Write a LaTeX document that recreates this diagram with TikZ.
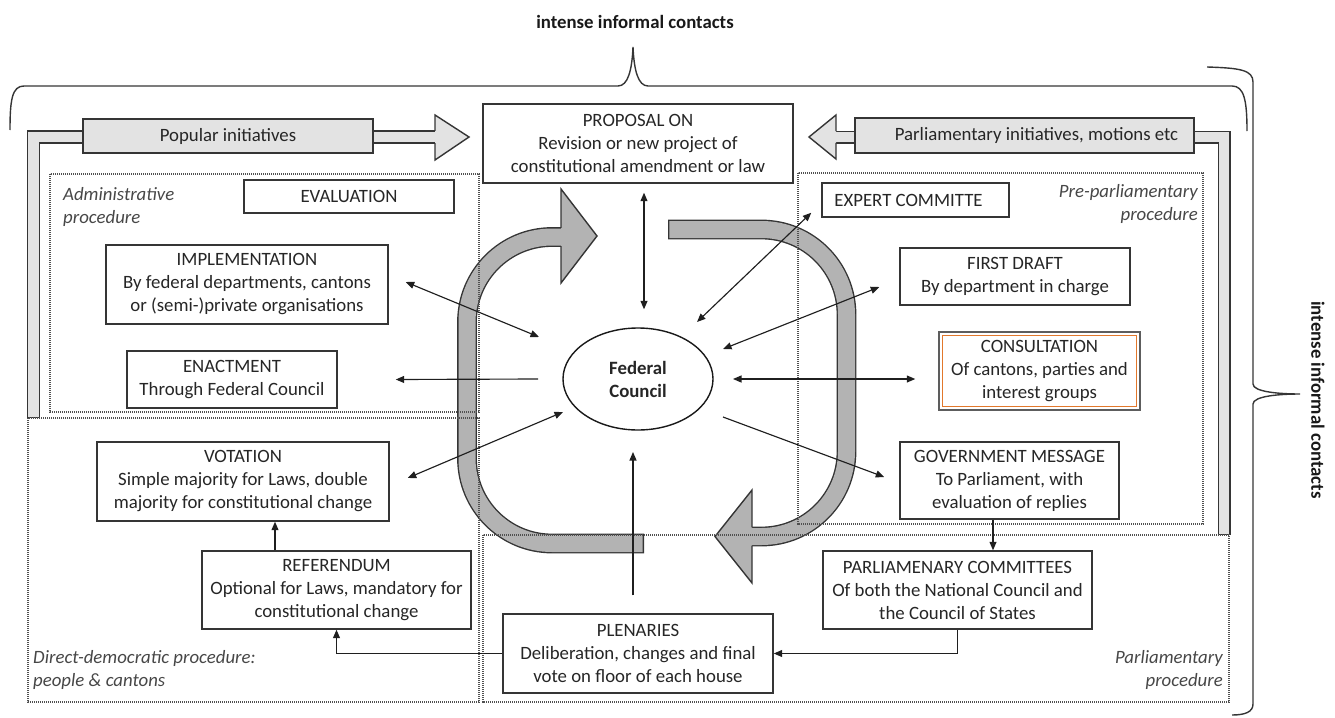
\documentclass[tikz,border=0pt]{standalone}
\usepackage{fontspec}
\setmainfont{Carlito}
\usetikzlibrary{arrows.meta,shapes.geometric,calc}
\definecolor{boxc}{HTML}{353535}
\definecolor{txt}{HTML}{262626}
\definecolor{bandfill}{HTML}{B3B3B3}
\definecolor{initfill}{HTML}{E3E3E3}
\definecolor{dotc}{HTML}{505050}
\definecolor{orangec}{HTML}{E2782C}
\newcommand{\bxfont}{\fontsize{18.8}{23}\selectfont}
\begin{document}
\begin{tikzpicture}[x=1pt,y=-1pt,
  >={Triangle[length=8.5pt,width=7pt]},
  box/.style={draw=boxc,line width=1.45pt,fill=white,align=center,inner sep=0pt,text=txt,font=\bxfont},
  lbl/.style={font=\bxfont\itshape,text=txt!85,inner sep=0pt},
  dotbox/.style={draw=dotc,line width=1.1pt,dash pattern=on 1.1pt off 0.9pt},
  con/.style={draw=black!88,line width=1.15pt},
  bandout/.style={draw=boxc,line width=19.8pt,rounded corners=85pt},
  bandin/.style={draw=bandfill,line width=17pt,rounded corners=85pt},
  headline/.style={draw=boxc,line width=1.4pt,line join=miter},
  brace/.style={draw=boxc,line width=1.4pt}
]
\useasboundingbox (0,0) rectangle (1335,717);

% ---------- gray cycle ----------
\draw[bandout] (644,543.5) -- (467,543.5) -- (467,237) -- (561,237);
\draw[bandin] (642.6,543.5) -- (467,543.5) -- (467,237) -- (561,237);
\fill[bandfill] (561,228.5) -- (561,189) -- (597,236) -- (561,283) -- (561,245.5) -- cycle;
\draw[headline] (561,227.8) -- (561,189) -- (597,236) -- (561,283) -- (561,246.2);

\draw[bandout] (668,229.5) -- (846.5,229.5) -- (846.5,536.5) -- (752,536.5);
\draw[bandin] (669.4,229.5) -- (846.5,229.5) -- (846.5,536.5) -- (752,536.5);
\fill[bandfill] (752,528) -- (752,490) -- (715,536.5) -- (752,583) -- (752,545) -- cycle;
\draw[headline] (752,527.3) -- (752,490) -- (715,536.5) -- (752,583) -- (752,545.7);

% ---------- initiatives ----------
\draw[draw=boxc,line width=13.6pt] (435,137) -- (33.5,137) -- (33.5,418);
\draw[draw=initfill,line width=10.8pt] (435,137) -- (33.5,137) -- (33.5,416.6);
\fill[initfill] (435,131.5) -- (435,115) -- (469,137) -- (435,160) -- (435,142.5) -- cycle;
\draw[headline] (435,130.9) -- (435,115) -- (469,137) -- (435,160) -- (435,143.1);
\node[box,fill=initfill,minimum width=290pt,minimum height=34pt] (pop) at (228,136) {Popular initiatives};

\draw[draw=boxc,line width=13pt] (836,137) -- (1224,137) -- (1224,535);
\draw[draw=initfill,line width=10.2pt] (836,137) -- (1224,137) -- (1224,533.6);
\fill[initfill] (836,132) -- (836,115) -- (809,137) -- (836,159) -- (836,142) -- cycle;
\draw[headline] (836,131.2) -- (836,115) -- (809,137) -- (836,159) -- (836,142.8);
\node[box,fill=initfill,minimum width=339pt,minimum height=35pt] (parlinit) at (1024.5,135.5) {\hspace*{24pt}Parliamentary initiatives, motions etc};

% ---------- procedure regions ----------
\draw[dotbox] (50,174) rectangle (479,412);
\draw[dotbox] (28,418) rectangle (479,702);
\draw[dotbox] (798,173) rectangle (1203,524);
\draw[dotbox] (483,535) rectangle (1229,702);

\node[lbl,align=left,anchor=west] (admlbl) at (63,206.5) {Administrative\\procedure};
\node[lbl,align=right,anchor=east] (prelbl) at (1198,204) {Pre-parliamentary\\procedure};
\node[lbl,align=left,anchor=west] (dirlbl) at (33,669.5) {Direct-democratic procedure:\\people \& cantons};
\node[lbl,align=right,anchor=east] (parlbl) at (1223,669.5) {Parliamentary\\procedure};

% ---------- boxes ----------
\node[box,minimum width=310pt,minimum height=79pt] (prop) at (638,143.5) {PROPOSAL ON\\Revision or new project of\\constitutional amendment or law};
\node[box,minimum width=210pt,minimum height=33pt] (eval) at (349,196.5) {EVALUATION};
\node[box,minimum width=282pt,minimum height=79pt] (impl) at (247,284.5) {IMPLEMENTATION\\By federal departments, cantons\\or (semi-)private organisations};
\node[box,minimum width=210pt,minimum height=57pt] (enact) at (232,379.5) {ENACTMENT\\Through Federal Council};
\node[box,minimum width=187pt,minimum height=34pt] (expert) at (915.5,200) {EXPERT COMMITTE\hspace*{14pt}};
\node[box,minimum width=230pt,minimum height=57pt] (draft) at (1015,276.5) {FIRST DRAFT\\By department in charge};
\node[box,draw=boxc!80,minimum width=201pt,minimum height=78pt] (cons) at (1039.5,371) {CONSULTATION\\Of cantons, parties and\\interest groups};
\draw[draw=orangec,line width=1.5pt] ($(cons.south west)+(4,-4)$) rectangle ($(cons.north east)+(-4,4)$);
\node[box,minimum width=219pt,minimum height=77pt] (gov) at (1009.5,480.5) {GOVERNMENT MESSAGE\\To Parliament, with\\evaluation of replies};
\node[box,minimum width=269pt,minimum height=78pt] (parlc) at (957.5,590) {PARLIAMENARY COMMITTEES\\Of both the National Council and\\the Council of States};
\node[box,minimum width=270pt,minimum height=79pt] (plen) at (638,653.5) {PLENARIES\\Deliberation, changes and final\\vote on floor of each house};
\node[box,minimum width=292pt,minimum height=79pt] (vot) at (243,481.5) {VOTATION\\Simple majority for Laws, double\\majority for constitutional change};
\node[box,minimum width=269pt,minimum height=78pt] (ref) at (336.5,590) {REFERENDUM\\Optional for Laws, mandatory for\\constitutional change};

\node[ellipse,draw=black!90,line width=1.4pt,fill=none,minimum width=150pt,minimum height=102pt,inner sep=0pt,align=center,text=txt,font=\bxfont\bfseries] (fc) at (638,379) {Federal\\Council};

% ---------- connectors ----------
\draw[con,<->] ($(prop.south)+(6,9)$) -- ($(fc.north)+(6,-18)$);
\draw[con,<->] ($(expert.south west)+(-10,-5)$) -- ($(fc)+(59,-57)$);
\draw[con,<->] ($(draft.west)+(-20,10.5)$) -- ($(fc)+(85,-30)$);
\draw[con,<->] ($(cons.west)+(-23,8)$) -- ($(fc)+(95,0)$);
\draw[con,->] ($(fc)+(85,38)$) -- ($(gov.west)+(-15,-3.5)$);
\draw[con,<->] ($(impl.east)+(17,-2.5)$) -- ($(fc)+(-99,-42)$);
\draw[con,->] ($(fc)+(-100,0)$) -- ($(enact.east)+(58,0)$);
\draw[con,<->] ($(vot.east)+(18,-3.5)$) -- ($(fc)+(-75,33)$);
\draw[con,->] ($(plen.north)+(-5,-18)$) -- ($(fc)+(-5,73)$);
\coordinate (gpx) at (993,0);
\draw[con,->] (gov.south -| gpx) -- (parlc.north -| gpx);
\draw[con,->] (parlc.south) |- (plen.east);
\draw[con,->] (plen.west) -| (ref.south);
\coordinate (rvx) at (275,0);
\draw[con,->] (ref.north -| rvx) -- (vot.south -| rvx);

% ---------- braces ----------
\draw[brace] (10,130) .. controls (10,100) and (12,86) .. (24,86) -- (618,86)
  .. controls (628,86) and (632,70) .. (633,47)
  .. controls (634,70) and (638,86) .. (648,86) -- (1232,86)
  .. controls (1244,86) and (1247,100) .. (1247,131);
\draw[brace] (1207,67) .. controls (1240,68) and (1253,70) .. (1253,82) -- (1253,384)
  .. controls (1253,392) and (1280,394) .. (1300,394)
  .. controls (1280,394) and (1253,396) .. (1253,404) -- (1253,704)
  .. controls (1253,712) and (1245,715) .. (1232,715);
\node[font=\bxfont\bfseries,text=black!90,inner sep=0pt] (toptitle) at (635,22) {intense informal contacts};
\node[font=\bxfont\bfseries,text=black!90,inner sep=0pt,rotate=-90] (righttitle) at (1318,400) {intense informal contacts};
\end{tikzpicture}
\end{document}
